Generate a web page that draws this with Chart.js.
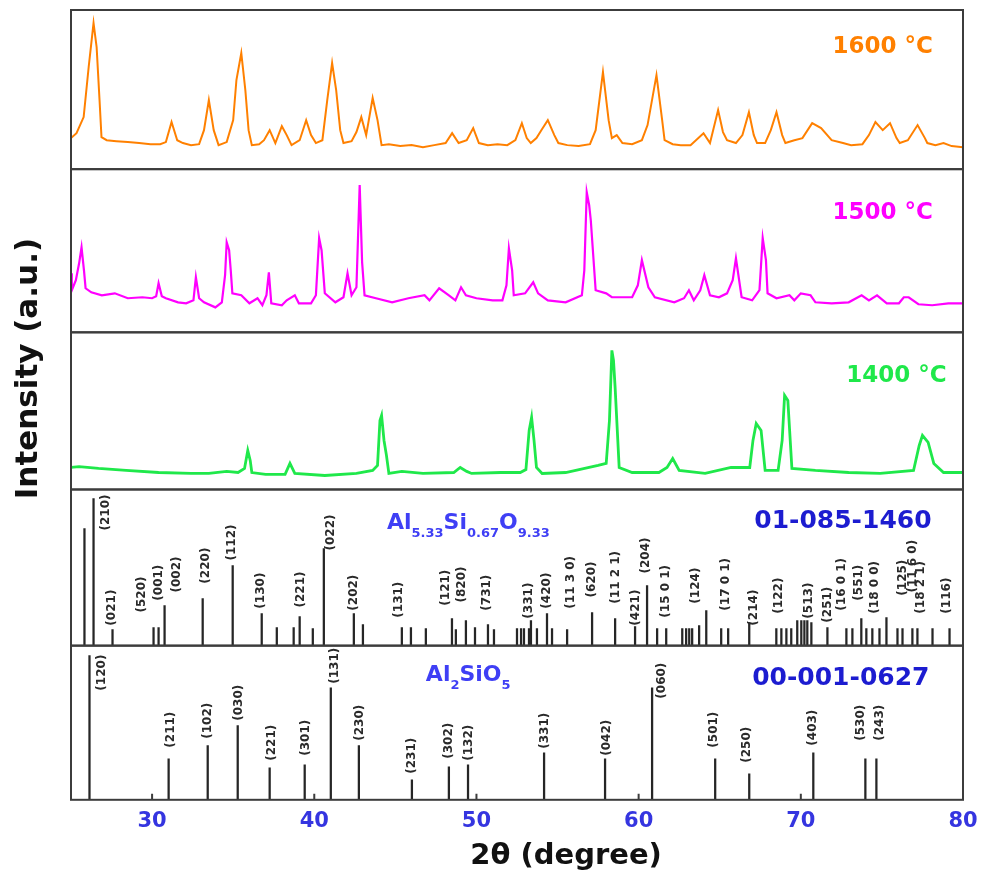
<!DOCTYPE html>
<html>
<head>
    <meta charset="UTF-8">
    <title>XRD 1400-1600 °C</title>
    <script src="https://cdn.jsdelivr.net/npm/chart.js"></script>
    <style>
        body { margin: 0; background: #fff; }
        .box { width: 983px; height: 879px; position: relative; }
    </style>
</head>
<body>
<div class="box"><canvas id="xrd"></canvas></div>

<script>
    // 2θ tick labels
    const xTicks = [30, 40, 50, 60, 70, 80];

    // measured patterns, 2θ (degree) / intensity (a.u., 0-100 inside each panel)
    const ang1600 = [25.0,25.34,25.78,26.09,26.39,26.58,26.76,26.88,27.2,27.8,28.5,29.2,29.9,30.5,30.85,31.2,31.55,31.9,32.4,32.9,33.2,33.5,33.8,34.1,34.6,35.0,35.2,35.5,35.75,35.95,36.15,36.6,36.9,37.25,37.6,38.0,38.3,38.6,39.1,39.5,39.8,40.1,40.5,40.8,41.1,41.35,41.6,41.8,42.3,42.6,42.9,43.2,43.6,43.9,44.15,44.6,45.3,46.0,46.7,47.4,48.1,48.5,48.9,49.4,49.8,50.15,50.7,51.3,51.9,52.4,52.8,53.1,53.35,53.7,54.0,54.4,54.8,55.05,55.6,56.3,57.0,57.35,57.8,58.15,58.35,58.65,59.0,59.6,60.2,60.55,61.1,61.45,61.6,62.1,62.6,63.2,64.0,64.4,64.9,65.2,65.45,66.0,66.4,66.8,67.1,67.3,67.8,68.15,68.5,68.85,69.05,69.6,70.1,70.7,71.25,71.9,72.6,73.1,73.8,74.2,74.6,75.05,75.5,75.9,76.1,76.6,77.2,77.65,77.8,78.3,78.8,79.3,80.0];
    const int1600 = [19.5,22.6,32.7,64.2,91.8,76.7,43.4,20.1,18.2,17.6,17.0,16.4,15.7,15.7,17.0,29.6,18.2,16.4,15.1,15.7,24.5,43.4,24.5,15.1,17.0,30.8,56.0,73.0,49.7,24.5,15.1,15.7,18.2,24.5,16.4,27.0,21.4,15.1,18.2,30.8,21.4,16.4,18.2,43.4,66.7,49.7,24.5,16.4,17.6,23.3,32.7,21.4,44.7,30.8,15.1,15.7,14.5,15.1,13.8,15.1,16.4,22.6,16.4,18.2,25.8,16.4,15.1,15.7,15.1,18.2,28.9,19.5,16.4,19.5,24.5,30.8,21.4,16.4,15.1,14.5,15.7,24.5,61.0,30.8,19.5,21.4,16.4,15.7,18.2,27.7,59.1,30.8,18.2,15.7,15.1,15.1,22.6,16.4,37.1,23.3,18.2,16.4,21.4,35.8,21.4,16.4,16.4,24.5,35.8,21.4,16.4,18.2,19.5,28.9,25.8,18.2,16.4,15.1,15.7,21.4,29.6,24.5,28.9,19.5,16.4,18.2,27.7,19.5,16.4,15.1,16.4,14.5,13.8];

    const ang1500 = [25.0,25.05,25.3,25.5,25.65,25.8,25.9,26.25,26.9,27.7,28.5,29.4,30.0,30.25,30.4,30.6,30.85,31.6,32.1,32.55,32.7,32.9,33.2,33.9,34.3,34.5,34.6,34.75,34.85,34.95,35.5,36.0,36.5,36.8,37.05,37.2,37.35,38.0,38.3,38.8,39.05,39.8,40.1,40.3,40.45,40.65,41.3,41.8,42.05,42.3,42.6,42.8,42.95,43.1,43.8,44.8,45.8,46.8,47.1,47.7,48.3,48.7,49.05,49.35,50.0,51.0,51.6,51.85,52.0,52.2,52.3,53.0,53.5,53.8,54.4,55.5,56.5,56.65,56.8,56.95,57.05,57.35,58.0,58.35,59.6,59.95,60.2,60.6,61.0,62.2,62.8,63.1,63.4,63.8,64.05,64.4,64.95,65.45,65.8,66.0,66.35,67.0,67.45,67.65,67.85,67.95,68.5,69.3,69.6,70.0,70.6,70.9,71.9,72.95,73.75,74.2,74.7,75.3,76.05,76.35,76.65,77.25,78.1,79.1,80.0];
    const int1500 = [36.2,25.8,31.9,42.3,52.1,38.0,27.0,24.5,22.7,23.9,20.9,21.5,20.9,22.1,30.1,22.1,20.9,18.4,17.8,19.6,33.7,20.9,18.4,15.3,18.4,35.0,55.2,50.3,38.0,23.9,22.7,17.8,20.9,16.6,22.7,36.8,17.8,16.6,19.6,22.7,17.8,17.8,22.7,57.7,50.3,23.9,18.4,21.5,36.2,22.7,27.6,90.2,42.9,22.7,20.9,18.4,20.9,22.7,19.6,27.0,22.7,19.6,27.6,22.7,20.9,19.6,19.6,28.8,51.5,38.0,22.7,23.9,30.7,23.9,19.6,18.4,22.7,38.0,85.9,77.9,68.7,25.8,23.9,21.5,21.5,28.8,44.2,27.6,21.5,18.4,20.9,25.8,19.6,25.8,35.0,22.7,21.5,23.9,31.9,45.4,21.5,19.6,25.8,57.7,44.2,23.9,20.9,22.7,19.6,23.9,22.7,18.4,17.8,18.4,22.7,19.6,22.7,17.8,17.8,21.5,21.5,17.2,16.6,17.8,17.8];

    const ang1400 = [25.0,25.5,26.7,28.4,30.4,32.4,33.5,34.6,35.3,35.7,35.9,36.05,36.15,37.0,38.2,38.5,38.8,40.65,42.6,43.6,43.9,44.05,44.15,44.3,44.45,44.6,45.4,46.7,48.6,49.0,49.4,49.7,51.5,52.7,53.05,53.25,53.4,53.55,53.7,54.05,55.5,57.5,58.0,58.2,58.35,58.45,58.55,58.8,59.6,61.25,61.75,62.1,62.5,64.1,65.7,66.85,67.05,67.25,67.55,67.8,68.6,68.85,69.0,69.2,69.45,70.9,72.95,74.9,76.95,77.3,77.5,77.85,78.2,78.8,80.0];
    const int1400 = [14.0,14.6,13.4,12.1,10.8,10.2,10.2,11.5,10.8,13.4,24.8,18.5,10.8,9.6,9.6,16.6,10.2,8.9,10.2,12.1,15.3,43.9,47.1,31.2,21.7,10.2,11.5,10.2,10.8,14.0,11.5,10.2,10.8,10.8,12.7,37.6,45.9,31.2,14.0,10.2,10.8,15.3,16.6,43.9,88.5,82.2,65.0,14.0,10.8,10.8,14.0,19.7,12.1,10.2,14.0,14.0,31.2,42.0,37.6,12.1,12.1,31.2,59.9,56.7,13.4,12.1,10.8,10.2,12.1,28.0,34.4,29.9,16.6,10.8,10.8];

    // reference card 01-085-1460 (Al5.33Si0.67O9.33)
    const posA = [25.83,26.39,27.56,30.09,30.4,30.77,33.12,34.97,36.76,37.69,38.73,39.1,39.91,40.59,42.44,43.0,45.4,45.96,46.88,48.49,48.73,49.35,49.91,50.71,51.08,52.5,52.75,52.93,53.24,53.36,53.73,54.35,54.66,55.59,57.13,58.55,59.78,60.52,61.14,61.7,62.69,62.93,63.12,63.3,63.73,64.17,65.09,65.52,66.82,68.49,68.8,69.11,69.41,69.78,70.03,70.22,70.4,70.65,71.64,72.81,73.18,73.73,74.04,74.41,74.85,75.28,75.96,76.27,76.88,77.19,78.12,79.17];
    const intA = [75,94.2,10.3,11.5,11.5,25.6,30.1,51.3,20.5,11.5,11.5,18.6,10.9,62.2,20.5,13.5,11.5,11.5,10.9,17.3,10.3,16,11.5,13.5,10.3,10.9,10.9,10.9,10.9,16,10.9,20.5,10.9,10.3,21.2,17.3,12.2,38.5,10.9,10.9,10.9,10.9,10.9,10.9,12.8,22.4,10.9,10.9,14.7,10.9,10.9,10.9,10.9,16,16,16,16,14.7,11.5,10.9,10.9,17.3,10.9,10.9,10.9,17.9,10.9,10.9,10.9,10.9,10.9,10.9];
    const hklA = ['(210)','(021)','(520)','(001)','(002)','(220)','(112)','(130)','(221)','(022)','(202)','(131)','(121)','(820)','(731)','(331)','(420)','(11 3 0)','(620)','(11 2 1)','(421)','(204)','(15 0 1)','(124)','(17 0 1)','(214)','(122)','(513)','(251)','(16 0 1)','(551)','(18 0 0)','(125)','(11 6 0)','(18 2 1)','(116)'];
    const hklAAt = [27.13,27.5,29.35,30.4,31.51,33.3,34.9,36.7,39.17,41.02,42.44,45.22,48.12,49.1,50.65,53.24,54.35,55.83,57.13,58.61,59.85,60.46,61.7,63.55,65.4,67.12,68.67,70.52,71.64,72.56,73.61,74.54,76.27,76.9,77.4,78.98];
    const hklALift = [73.7,12.8,21.2,28.8,34,39.7,54.5,23.7,24.4,60.9,22.4,17.9,25.6,27.6,22.4,17.3,23.7,23.7,30.8,26.9,12.8,46.2,17.9,26.9,22.4,12.8,20.5,17.3,14.7,22.4,28.8,20.5,32,34,20.5,20.5];

    // reference card 00-001-0627 (Al2SiO5)
    const posB = [26.14,31.02,33.43,35.28,37.25,39.41,41.02,42.75,46.02,48.3,49.48,54.17,57.93,60.83,64.72,66.82,70.77,73.98,74.66];
    const intB = [93.5,26.6,35.1,48.1,20.8,22.7,72.7,35.1,13,21.4,22.7,30.5,26.6,72.7,26.6,16.9,30.5,26.6,26.6];
    const hklB = ['(120)','(211)','(102)','(030)','(221)','(301)','(131)','(230)','(231)','(302)','(132)','(331)','(042)','(060)','(501)','(250)','(403)','(530)','(243)'];
    const hklBAt = [26.88,31.14,33.43,35.34,37.38,39.48,41.27,42.81,46.02,48.3,49.54,54.23,58.06,61.45,64.66,66.7,70.77,73.73,74.85];
    const hklBLift = [70.8,33.8,39.6,51.3,25.3,28.6,75.3,38.3,16.9,26.6,25.3,33.1,28.6,65.6,33.8,24,35.1,38.3,38.3];

    // panels top to bottom
    const panels = ['y1600', 'y1500', 'y1400', 'yA', 'yB'];
    const panelWeights = [159, 163, 157, 156, 154];
    const FONT = 'DejaVu Sans';

    function pts(xs, ys) {
        return xs.map((x, i) => ({ x: x, y: ys[i] }));
    }

    const scales = {
        x: {
            type: 'linear', min: 25, max: 80, offset: false,
            grid: { display: false, drawTicks: false },
            border: { display: false },
            afterBuildTicks: s => { s.ticks = xTicks.map(v => ({ value: v })); },
            afterFit: s => { s.paddingRight = 0; },
            ticks: {
                padding: 9, autoSkip: false, maxRotation: 0,
                color: '#3535e0',
                font: { family: FONT, size: 21, weight: 'bold' }
            }
        }
    };
    // stacked axes are laid out bottom-up, so declare the lowest panel first
    for (let i = panels.length - 1; i >= 0; i--) {
        scales[panels[i]] = {
            type: 'linear', position: 'left', stack: 'xrd', stackWeight: panelWeights[i],
            min: 0, max: 100,
            grid: { display: false, drawTicks: false },
            border: { display: false },
            ticks: { display: false }
        };
    }

    // text helpers
    function vText(ctx, text, x, y) {
        ctx.save();
        ctx.translate(x, y);
        ctx.rotate(-Math.PI / 2);
        ctx.fillText(text, 0, 0);
        ctx.restore();
    }

    function formula(ctx, parts, x, y, color) {
        ctx.fillStyle = color;
        ctx.textAlign = 'left';
        ctx.textBaseline = 'alphabetic';
        parts.forEach(p => {
            ctx.font = p[1] ? `bold 13px "${FONT}"` : `bold 22px "${FONT}"`;
            ctx.fillText(p[0], x, y + (p[1] ? 8 : 0));
            x += ctx.measureText(p[0]).width;
        });
    }

    const decor = {
        id: 'decor',
        afterDraw(chart) {
            const { ctx, chartArea: ca, scales: s } = chart;
            const X = v => s.x.getPixelForValue(v);
            ctx.save();

            // panel frames
            ctx.strokeStyle = '#3c3c3c';
            ctx.lineWidth = 2;
            panels.forEach(id => {
                ctx.strokeRect(ca.left, s[id].top, ca.right - ca.left, s[id].bottom - s[id].top);
            });
            // inward ticks on the bottom axis
            ctx.beginPath();
            xTicks.slice(0, -1).forEach(v => {
                ctx.moveTo(X(v), ca.bottom);
                ctx.lineTo(X(v), ca.bottom - 6);
            });
            ctx.stroke();

            // temperatures
            ctx.textAlign = 'left';
            ctx.textBaseline = 'middle';
            ctx.font = `bold 23px "${FONT}"`;
            ctx.fillStyle = '#ff8000';
            ctx.fillText('1600 °C', X(71.95), s.y1600.getPixelForValue(76.7));
            ctx.fillStyle = '#ff00ff';
            ctx.fillText('1500 °C', X(71.95), s.y1500.getPixelForValue(73));
            ctx.fillStyle = '#1fe84a';
            ctx.fillText('1400 °C', X(72.8), s.y1400.getPixelForValue(72));

            // card numbers
            ctx.font = `bold 25px "${FONT}"`;
            ctx.fillStyle = '#1c1cd0';
            ctx.fillText('01-085-1460', X(67.13), s.yA.getPixelForValue(79.5));
            ctx.fillText('00-001-0627', X(67.0), s.yB.getPixelForValue(78.6));

            // phase formulas
            formula(ctx, [['Al', 0], ['5.33', 1], ['Si', 0], ['0.67', 1], ['O', 0], ['9.33', 1]],
                X(44.48), s.yA.getPixelForValue(75), '#3f3ff5');
            formula(ctx, [['Al', 0], ['2', 1], ['SiO', 0], ['5', 1]],
                X(46.88), s.yB.getPixelForValue(77.3), '#3f3ff5');

            // hkl labels
            ctx.font = `bold 12px "${FONT}"`;
            ctx.fillStyle = '#2a2a2a';
            ctx.textAlign = 'left';
            ctx.textBaseline = 'middle';
            hklA.forEach((t, i) => vText(ctx, t, X(hklAAt[i]), s.yA.getPixelForValue(hklALift[i])));
            hklB.forEach((t, i) => vText(ctx, t, X(hklBAt[i]), s.yB.getPixelForValue(hklBLift[i])));

            // axis titles
            ctx.fillStyle = '#111';
            ctx.textAlign = 'center';
            ctx.font = `bold 29px "${FONT}"`;
            ctx.fillText('2θ (degree)', ca.left + 0.555 * (ca.right - ca.left), ca.bottom + 57);
            ctx.font = `bold 31px "${FONT}"`;
            vText(ctx, 'Intensity (a.u.)', ca.left - 42, ca.top + 0.454 * (ca.bottom - ca.top));

            ctx.restore();
        }
    };

    new Chart(document.getElementById('xrd'), {
        type: 'line',
        data: {
            datasets: [
                { label: '1600 °C', data: pts(ang1600, int1600), yAxisID: 'y1600', borderColor: '#ff8000', borderWidth: 2, pointRadius: 0 },
                { label: '1500 °C', data: pts(ang1500, int1500), yAxisID: 'y1500', borderColor: '#ff00ff', borderWidth: 2.2, pointRadius: 0 },
                { label: '1400 °C', data: pts(ang1400, int1400), yAxisID: 'y1400', borderColor: '#1fe84a', borderWidth: 2.8, pointRadius: 0 },
                { type: 'bar', label: '01-085-1460', data: pts(posA, intA), yAxisID: 'yA', backgroundColor: '#262626', barThickness: 1.6, grouped: false },
                { type: 'bar', label: '00-001-0627', data: pts(posB, intB), yAxisID: 'yB', backgroundColor: '#262626', barThickness: 1.6, grouped: false }
            ]
        },
        options: {
            responsive: true,
            maintainAspectRatio: false,
            animation: false,
            layout: { padding: { left: 71, right: 20, top: 10, bottom: 36 } },
            scales: scales,
            plugins: {
                legend: { display: false },
                tooltip: { enabled: false }
            }
        },
        plugins: [decor]
    });
</script>
</body>
</html>
